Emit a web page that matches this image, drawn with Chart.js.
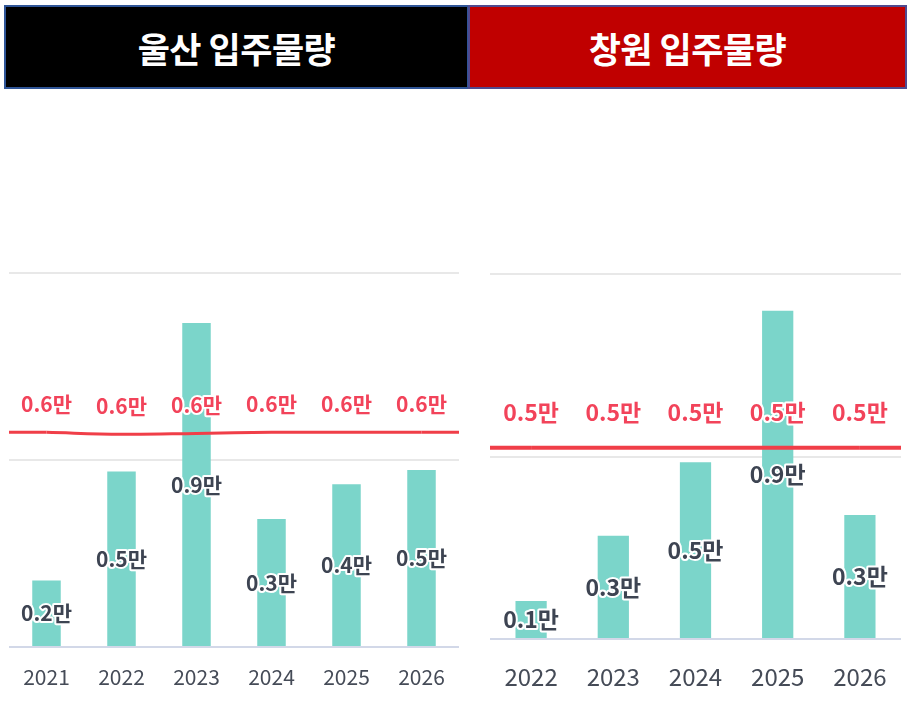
<!DOCTYPE html>
<html>
<head>
<meta charset="utf-8">
<script src="https://cdn.jsdelivr.net/npm/chart.js@4.4.0/dist/chart.umd.min.js"></script>
<style>
  body { margin: 0; width: 911px; height: 703px; background: #fff; position: relative; overflow: hidden;
         font-family: 'Noto Sans CJK KR', 'Noto Sans', sans-serif; }
  .head { position: absolute; top: 5px; height: 84px; box-sizing: border-box; display: flex;
          align-items: center; justify-content: center; color: #fff; font-weight: bold; font-size: 35px;
          letter-spacing: -0.5px; }
  #head-ulsan { left: 4px; width: 465px; background: #000; border: 2px solid #2f5597; }
  #head-changwon { left: 468px; width: 439px; background: #c00000; border: 2px solid #4f4a8f; }
  .box { position: absolute; top: 100px; height: 603px; }
  #box-ulsan { left: 0; width: 470px; }
  #box-changwon { left: 470px; width: 441px; }
</style>
</head>
<body>
<div class="head" id="head-ulsan">울산 입주물량</div>
<div class="head" id="head-changwon">창원 입주물량</div>
<div class="box" id="box-ulsan"><canvas id="chart-ulsan"></canvas></div>
<div class="box" id="box-changwon"><canvas id="chart-changwon"></canvas></div>

<script>
// 입주물량 (세대) and 평균선
const ulsanYears = ['2021', '2022', '2023', '2024', '2025', '2026'];
const ulsanSupply = [1780, 4690, 8660, 3420, 4350, 4730];
const ulsanAvg = [5740, 5690, 5710, 5740, 5740, 5740];

const changwonYears = ['2022', '2023', '2024', '2025', '2026'];
const changwonSupply = [1040, 2830, 4840, 8990, 3400];
const changwonAvg = [5240, 5240, 5240, 5240, 5240];

const yTicks = [0, 5000, 10000];

const FONT = "'Noto Sans CJK KR', 'Noto Sans', sans-serif";

function man(v) {
    return (v / 10000).toFixed(1) + '만';
}

function haloText(ctx, text, x, y, color, size) {
    ctx.save();
    ctx.font = 'bold ' + size + 'px ' + FONT;
    ctx.textAlign = 'center';
    ctx.textBaseline = 'middle';
    ctx.lineJoin = 'round';
    ctx.lineWidth = 4;
    ctx.strokeStyle = '#fff';
    ctx.strokeText(text, x, y);
    ctx.fillStyle = color;
    ctx.fillText(text, x, y);
    ctx.restore();
}

// stretch the average line to both edges and write all value labels
const labelPlugin = {
    id: 'labelPlugin',
    afterDatasetDraw(chart, args) {
        if (args.meta.type !== 'line') return;
        const pts = args.meta.data;
        const ds = chart.data.datasets[args.index];
        const area = chart.chartArea;
        const ctx = chart.ctx;
        ctx.save();
        ctx.strokeStyle = ds.borderColor;
        ctx.lineWidth = ds.borderWidth;
        ctx.beginPath();
        ctx.moveTo(area.left, pts[0].y);
        ctx.lineTo(pts[0].x, pts[0].y);
        ctx.moveTo(pts[pts.length - 1].x, pts[pts.length - 1].y);
        ctx.lineTo(area.right, pts[pts.length - 1].y);
        ctx.stroke();
        ctx.restore();
    },
    afterDatasetsDraw(chart, args, opts) {
        const ctx = chart.ctx;
        chart.data.datasets.forEach((ds, i) => {
            const meta = chart.getDatasetMeta(i);
            meta.data.forEach((el, j) => {
                if (meta.type === 'bar') {
                    haloText(ctx, man(ds.data[j]), el.x, (el.y + el.base) / 2, '#3d4452', opts.size);
                } else {
                    haloText(ctx, man(ds.data[j]), el.x, el.y - opts.lift, '#f2435a', opts.size);
                }
            });
        });
    }
};

function makeChart(id, years, supply, avg, look) {
    const ctx = document.getElementById(id).getContext('2d');
    return new Chart(ctx, {
        type: 'bar',
        data: {
            labels: years,
            datasets: [
                {
                    type: 'line',
                    label: '평균',
                    data: avg,
                    borderColor: '#f03e48',
                    borderWidth: look.lineWidth,
                    pointRadius: 0,
                    tension: 0.4,
                    order: 0
                },
                {
                    label: '입주물량',
                    data: supply,
                    backgroundColor: '#7bd5ca',
                    barPercentage: 0.38,
                    categoryPercentage: 1,
                    order: 1
                }
            ]
        },
        options: {
            responsive: true,
            maintainAspectRatio: false,
            animation: false,
            layout: { padding: look.padding },
            plugins: {
                legend: { display: false },
                tooltip: { enabled: false },
                labelPlugin: { size: look.labelSize, lift: look.lift }
            },
            scales: {
                x: {
                    grid: { display: false },
                    border: { display: false },
                    ticks: {
                        color: '#454b57',
                        padding: look.tickPadding,
                        font: { family: FONT, size: look.tickSize }
                    },
                    afterFit(scale) { scale.height = look.axisHeight; }
                },
                y: {
                    min: 0,
                    max: 10000,
                    afterBuildTicks(scale) { scale.ticks = yTicks.map(v => ({ value: v })); },
                    ticks: { display: false },
                    border: { display: false },
                    grid: {
                        drawTicks: false,
                        lineWidth: 2,
                        color: c => c.tick.value === 0 ? '#d2d8e8' : '#e8e8e8'
                    },
                    afterFit(scale) { scale.width = 0; }
                }
            }
        },
        plugins: [labelPlugin]
    });
}

makeChart('chart-ulsan', ulsanYears, ulsanSupply, ulsanAvg, {
    padding: { left: 9, right: 11, top: 173, bottom: 0 },
    axisHeight: 56, tickPadding: 9, tickSize: 21,
    labelSize: 21, lift: 28, lineWidth: 3
});

makeChart('chart-changwon', changwonYears, changwonSupply, changwonAvg, {
    padding: { left: 20, right: 10, top: 174, bottom: 0 },
    axisHeight: 64, tickPadding: 15, tickSize: 24,
    labelSize: 23, lift: 35, lineWidth: 4
});
</script>
</body>
</html>
